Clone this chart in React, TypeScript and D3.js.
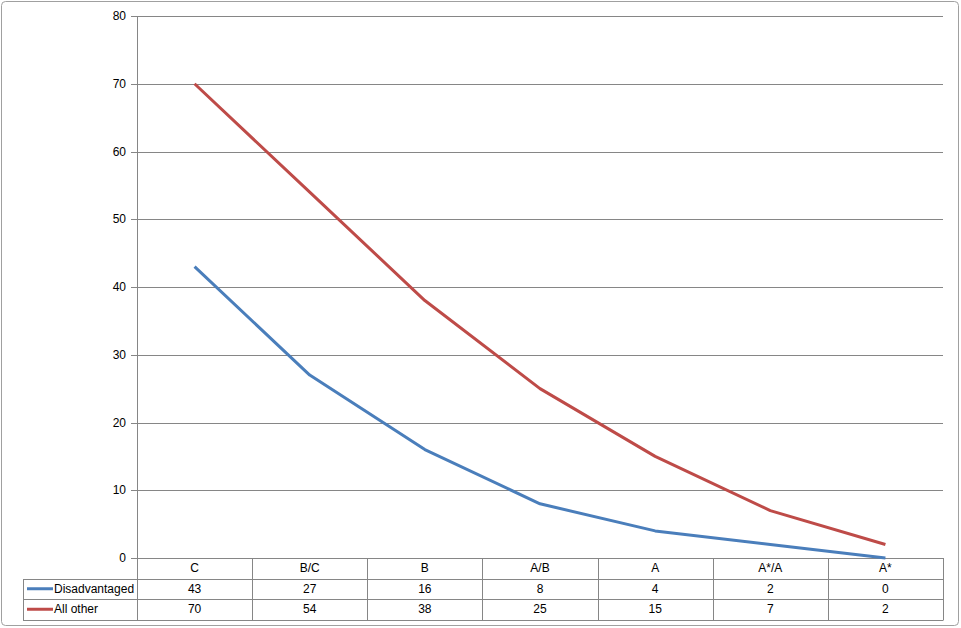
import React from "react";
import * as d3 from "d3";

const categories = ["C", "B/C", "B", "A/B", "A", "A*/A", "A*"];
const disadvantaged = [43, 27, 16, 8, 4, 2, 0];
const allOther = [70, 54, 38, 25, 15, 7, 2];
const yTicks = [0, 10, 20, 30, 40, 50, 60, 70, 80];

const series = [
  { name: "Disadvantaged", values: disadvantaged, color: "#4A7EBB" },
  { name: "All other", values: allOther, color: "#BE4B48" },
];

const W = 961, H = 628;
const left = 137, right = 943, top = 16, bottom = 558;
const rowH = 20.5;
const tableLeft = 23;
const font = "'Liberation Sans', Arial, sans-serif";

export default function App() {
  const x = d3.scaleBand<string>().domain(categories).range([left, right]).padding(0);
  const y = d3.scaleLinear().domain([0, 80]).range([bottom, top]);
  const line = d3
    .line<number>()
    .x((_, i) => (x(categories[i]) as number) + x.bandwidth() / 2)
    .y((d) => y(d));
  const tableBottom = bottom + rowH * 3;

  return (
    <div style={{ position: "fixed", left: 0, top: 0 }}>
      <svg width={W} height={H} style={{ display: "block", fontFamily: font }}>
        <rect x={0} y={0} width={W} height={H} fill="#fff" />
        <rect x={1.5} y={1.5} width={W - 4} height={H - 4} rx={4} fill="#fff" stroke="#a0a0a0" strokeWidth={1} />
        {/* gridlines */}
        {yTicks.map((t) => (
          <g key={t}>
            {t > 0 && (
              <line x1={left} x2={right} y1={Math.round(y(t)) + 0.5} y2={Math.round(y(t)) + 0.5} stroke="#868686" strokeWidth={1} />
            )}
            <line x1={left - 6} x2={left} y1={Math.round(y(t)) + 0.5} y2={Math.round(y(t)) + 0.5} stroke="#868686" strokeWidth={1} />
            <text x={left - 11} y={y(t)} dy="0.35em" textAnchor="end" fontSize={12} fill="#000">
              {t}
            </text>
          </g>
        ))}
        {/* y axis */}
        <line x1={left + 0.5} x2={left + 0.5} y1={top} y2={bottom} stroke="#868686" />
        {/* table */}
        <g stroke="#868686" strokeWidth={1} fill="none">
          {[0, 1, 2, 3].map((r) => (
            <line
              key={r}
              x1={r === 0 ? left : tableLeft}
              x2={right}
              y1={Math.round(bottom + r * rowH) + 0.5}
              y2={Math.round(bottom + r * rowH) + 0.5}
            />
          ))}
          <line x1={tableLeft + 0.5} x2={tableLeft + 0.5} y1={Math.round(bottom + rowH) + 0.5} y2={Math.round(tableBottom) + 0.5} />
          {categories.map((c) => (
            <line key={c} x1={Math.round(x(c) as number) + 0.5} x2={Math.round(x(c) as number) + 0.5} y1={bottom} y2={Math.round(tableBottom) + 0.5} />
          ))}
          <line x1={right + 0.5} x2={right + 0.5} y1={bottom} y2={Math.round(tableBottom) + 0.5} />
        </g>
        {categories.map((c) => (
          <text key={c} x={(x(c) as number) + x.bandwidth() / 2} y={bottom + rowH / 2} dy="0.35em" textAnchor="middle" fontSize={12}>
            {c}
          </text>
        ))}
        {series.map((s, si) => {
          const cy = bottom + rowH * (si + 1) + rowH / 2;
          return (
            <g key={s.name}>
              <line x1={tableLeft + 4} x2={tableLeft + 30} y1={cy} y2={cy} stroke={s.color} strokeWidth={3} />
              <text x={tableLeft + 31} y={cy} dy="0.35em" fontSize={12}>
                {s.name}
              </text>
              {s.values.map((v, i) => (
                <text key={i} x={(x(categories[i]) as number) + x.bandwidth() / 2} y={cy} dy="0.35em" textAnchor="middle" fontSize={12}>
                  {v}
                </text>
              ))}
            </g>
          );
        })}
        {/* lines */}
        {series.map((s) => (
          <path key={s.name} d={line(s.values) || ""} fill="none" stroke={s.color} strokeWidth={3} strokeLinejoin="round" />
        ))}
      </svg>
    </div>
  );
}
